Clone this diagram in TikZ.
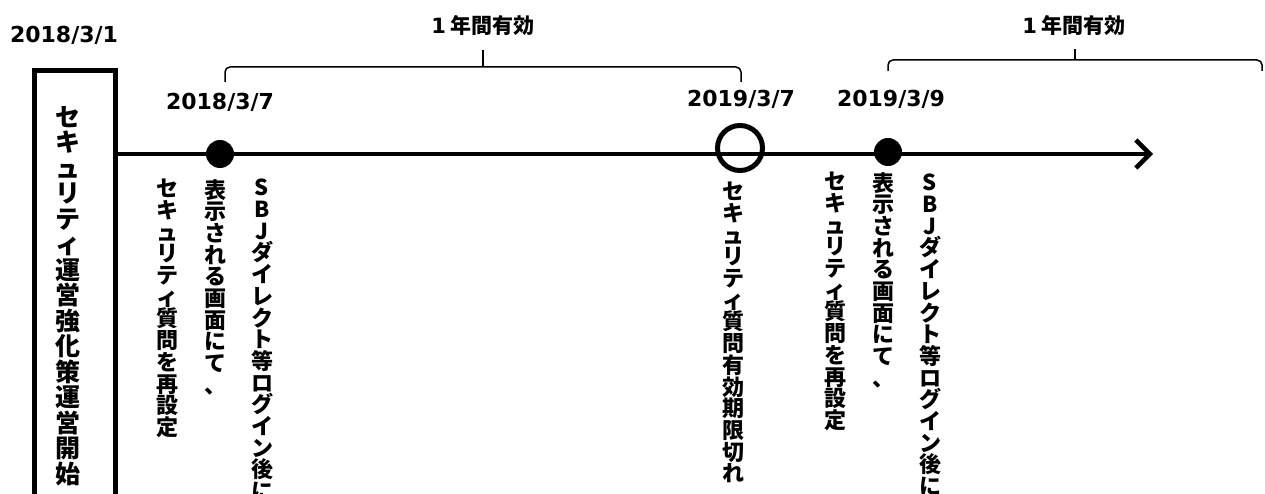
\documentclass[tikz,border=0pt]{standalone}
\usepackage{fontspec}
\usepackage{tikz}
\usetikzlibrary{arrows.meta}

\newfontfamily\jpfont{Noto Sans CJK JP}
\newfontfamily\datefont{DejaVu Sans}

% stack the characters of a text one under another
\ExplSyntaxOn
\NewDocumentCommand \tate { m }
  {
    \seq_clear:N \l_tmpa_seq
    \tl_map_inline:nn {#1} { \seq_put_right:Nn \l_tmpa_seq {##1} }
    \seq_use:Nn \l_tmpa_seq { \\ }
  }
\ExplSyntaxOff

\tikzset{
	datelabel/.style={font=\datefont\bfseries\fontsize{22}{26}\selectfont, inner sep=0pt},
	spanlabel/.style={font=\jpfont\bfseries\fontsize{21}{24}\selectfont, inner sep=0pt},
	tatelabel/.style={font=\jpfont\bfseries\fontsize{22}{21.7}\selectfont, align=center, inner sep=0pt, anchor=north},
	startbox/.style={shape=rectangle, draw=black, line width=5pt, minimum width=81pt, minimum height=463pt, inner sep=0pt},
	eventdot/.style={shape=circle, fill=black, minimum size=28pt, inner sep=0pt},
	expirycircle/.style={shape=circle, draw=black, line width=5pt, minimum size=45pt, inner sep=0pt},
	spanbrace/.style={line width=1.5pt, rounded corners=5pt},
}

\begin{document}
\begin{tikzpicture}[x=1pt, y=-1pt]

	\clip (0, 0) rectangle (1265, 494);

	\node[datelabel] (t0) at (64, 35) {2018/3/1};
	\node[startbox, anchor=north] (start) at (75, 68.5) {};
	\node[tatelabel, font=\jpfont\bfseries\fontsize{25}{25.5}\selectfont] (starttext) at (68, 106) {\tate{セキュリティ運営強化策運営開始}};

	\coordinate (tip) at (1153, 154);
	\draw[line width=4.5pt, -{Straight Barb[length=14pt, width=28pt]}] (start.east |- tip) -- (tip);

	\node[eventdot]     (d1) at (220, 154) {};
	\node[expirycircle] (c1) at (740, 148) {};
	\node[eventdot]     (d2) at (888, 152) {};

	\node[datelabel] (t1) at (220, 102) {2018/3/7};
	\node[datelabel] (t2) at (741, 99)  {2019/3/7};
	\node[datelabel] (t3) at (891, 99)  {2019/3/9};

	% one year spans
	\draw[spanbrace] (225, 82) |- (741, 67) -- (741, 82);
	\draw[spanbrace] (483, 67) -- (483, 50);
	\node[spanlabel] (p1) at (483, 26) {{\datefont 1} 年間有効};

	\draw[spanbrace] (888, 71) |- (1262, 60) -- (1262, 71);
	\draw[spanbrace] (1075, 60) -- (1075, 49);
	\node[spanlabel] (p2) at (1074, 26) {{\datefont 1} 年間有効};

	\node[tatelabel] (q1) at (167, 179) {\tate{セキュリティ質問を再設定}};
	\node[tatelabel] (q2) at (215, 179) {\tate{表示される画面にて、}};
	\node[tatelabel] (q3) at (262, 179) {\tate{SBJダイレクト等ログイン後に}};

	\node[tatelabel] (x1) at (733, 182) {\tate{セキュリティ質問有効期限切れ}};

	\node[tatelabel] (q4) at (835, 172) {\tate{セキュリティ質問を再設定}};
	\node[tatelabel] (q5) at (883, 172) {\tate{表示される画面にて、}};
	\node[tatelabel] (q6) at (930, 174) {\tate{SBJダイレクト等ログイン後に}};

\end{tikzpicture}
\end{document}
